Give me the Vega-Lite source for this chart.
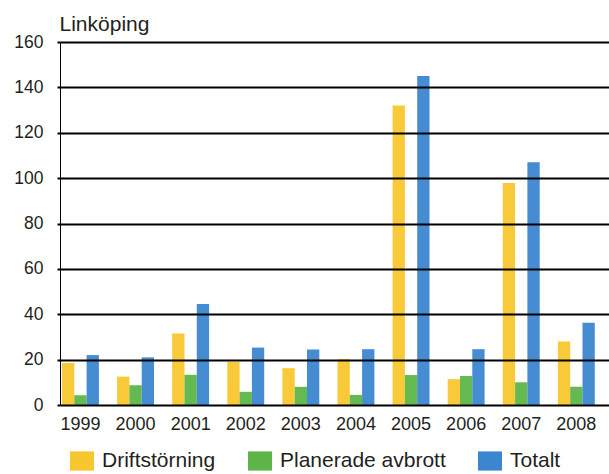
{
  "$schema": "https://vega.github.io/schema/vega-lite/v6.json",
  "width": 549,
  "height": 363,
  "autosize": "none",
  "padding": {"left": 60, "top": 42, "right": 0, "bottom": 69},
  "background": "white",
  "config": {
    "font": "Liberation Sans",
    "view": {"stroke": null}
  },
  "data": {
    "values": [
      {"year": "1999", "serie": "Driftstörning", "value": 18.5},
      {"year": "1999", "serie": "Planerade avbrott", "value": 4.3},
      {"year": "1999", "serie": "Totalt", "value": 22},
      {"year": "2000", "serie": "Driftstörning", "value": 12.5},
      {"year": "2000", "serie": "Planerade avbrott", "value": 8.7},
      {"year": "2000", "serie": "Totalt", "value": 21},
      {"year": "2001", "serie": "Driftstörning", "value": 31.5},
      {"year": "2001", "serie": "Planerade avbrott", "value": 13.3},
      {"year": "2001", "serie": "Totalt", "value": 44.5},
      {"year": "2002", "serie": "Driftstörning", "value": 19},
      {"year": "2002", "serie": "Planerade avbrott", "value": 5.8},
      {"year": "2002", "serie": "Totalt", "value": 25.3},
      {"year": "2003", "serie": "Driftstörning", "value": 16.2},
      {"year": "2003", "serie": "Planerade avbrott", "value": 8},
      {"year": "2003", "serie": "Totalt", "value": 24.5},
      {"year": "2004", "serie": "Driftstörning", "value": 20.2},
      {"year": "2004", "serie": "Planerade avbrott", "value": 4.4},
      {"year": "2004", "serie": "Totalt", "value": 24.6},
      {"year": "2005", "serie": "Driftstörning", "value": 132},
      {"year": "2005", "serie": "Planerade avbrott", "value": 13.2},
      {"year": "2005", "serie": "Totalt", "value": 145},
      {"year": "2006", "serie": "Driftstörning", "value": 11.4},
      {"year": "2006", "serie": "Planerade avbrott", "value": 12.8},
      {"year": "2006", "serie": "Totalt", "value": 24.6},
      {"year": "2007", "serie": "Driftstörning", "value": 97.8},
      {"year": "2007", "serie": "Planerade avbrott", "value": 10},
      {"year": "2007", "serie": "Totalt", "value": 107},
      {"year": "2008", "serie": "Driftstörning", "value": 28},
      {"year": "2008", "serie": "Planerade avbrott", "value": 8},
      {"year": "2008", "serie": "Totalt", "value": 36.3}
    ]
  },
  "mark": {"type": "bar", "opacity": 0.95},
  "encoding": {
    "x": {
      "field": "year",
      "type": "nominal",
      "scale": {"paddingInner": 0.33, "paddingOuter": 0.147, "align": 0.123},
      "axis": {
        "title": null,
        "labelAngle": 0,
        "labelFontSize": 18,
        "labelColor": "#231f20",
        "labelPadding": 10,
        "ticks": false,
        "domain": false,
        "grid": false
      }
    },
    "xOffset": {
      "field": "serie",
      "type": "nominal",
      "sort": ["Driftstörning", "Planerade avbrott", "Totalt"],
      "scale": {"paddingInner": 0, "paddingOuter": 0}
    },
    "y": {
      "field": "value",
      "type": "quantitative",
      "scale": {"domain": [0, 160], "nice": false},
      "axis": {
        "values": [0, 20, 40, 60, 80, 100, 120, 140, 160],
        "title": "Linköping",
        "titleAngle": 0,
        "titleX": -1,
        "titleY": -12,
        "titleAlign": "left",
        "titleBaseline": "alphabetic",
        "titleFontSize": 21,
        "titleFontWeight": "normal",
        "titleColor": "#231f20",
        "labelFontSize": 17.5,
        "labelColor": "#231f20",
        "labelPadding": 14,
        "tickSize": 3,
        "tickColor": "#000000",
        "tickWidth": 2,
        "domain": true,
        "domainColor": "#000000",
        "domainWidth": 1,
        "grid": true,
        "gridColor": "#000000",
        "gridWidth": 2.2,
        "gridOpacity": 1,
        "zindex": 1
      }
    },
    "color": {
      "field": "serie",
      "type": "nominal",
      "sort": ["Driftstörning", "Planerade avbrott", "Totalt"],
      "scale": {
        "domain": ["Driftstörning", "Planerade avbrott", "Totalt"],
        "range": ["#F8C62E", "#5DB548", "#3C86D0"]
      },
      "legend": {
        "title": null,
        "orient": "none",
        "direction": "horizontal",
        "legendX": 10,
        "legendY": 407,
        "symbolType": "M-1,-0.8H1V0.8H-1Z",
        "symbolSize": 576,
        "symbolStrokeWidth": 0,
        "symbolOpacity": 1,
        "labelFontSize": 21,
        "labelLimit": 400,
        "labelColor": "#231f20",
        "labelOffset": 8,
        "columnPadding": 32
      }
    }
  }
}
